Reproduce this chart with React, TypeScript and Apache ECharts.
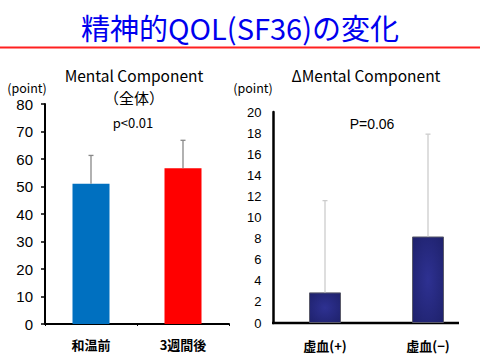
import React, { useEffect, useRef } from "react";
import * as echarts from "echarts";

const leftCategories = ["和温前", "3週間後"];
const leftMeans = [51, 56.6];
const leftSD = [10.3, 10.2];
const leftColors = ["#0070c0", "#ff0000"];

const rightCategories = ["虚血(+)", "虚血(−)"];
const rightMeans = [2.9, 8.2];
const rightSD = [8.7, 9.7];

const FONT_JP = "'Noto Sans CJK JP', sans-serif";
const FONT_LAT = "'Liberation Sans', Arial, sans-serif";

function errRender(color: string) {
  return (params: any, api: any) => {
    const x = api.value(0);
    const lo = api.coord([x, api.value(1)]);
    const hi = api.coord([x, api.value(2)]);
    return {
      type: "group",
      children: [
        {
          type: "line",
          shape: { x1: lo[0], y1: lo[1], x2: hi[0], y2: hi[1] },
          style: { stroke: color, lineWidth: 1.3 },
        },
        {
          type: "line",
          shape: { x1: hi[0] - 2.5, y1: hi[1], x2: hi[0] + 2.5, y2: hi[1] },
          style: { stroke: color, lineWidth: 1.3 },
        },
      ],
    };
  };
}

export default function App() {
  const ref = useRef<HTMLDivElement>(null);
  useEffect(() => {
    if (!ref.current) return;
    const chart = echarts.init(ref.current, null, { renderer: "svg" });
    const navy = new echarts.graphic.RadialGradient(0.5, 0.5, 0.8, [
      { offset: 0, color: "#2e3192" },
      { offset: 1, color: "#1c1f66" },
    ]);
    chart.setOption({
      animation: false,
      grid: [
        { left: 45, top: 104, width: 184, height: 220 },
        { left: 273.5, top: 112, width: 206, height: 211 },
      ],
      xAxis: [
        {
          gridIndex: 0,
          type: "category",
          data: leftCategories,
          axisLine: { lineStyle: { color: "#000", width: 2 } },
          axisTick: { show: true, length: 2, lineStyle: { color: "#000" } },
          axisLabel: {
            color: "#000",
            fontSize: 13,
            fontWeight: "bold",
            fontFamily: FONT_JP,
            margin: 14,
          },
        },
        {
          gridIndex: 1,
          type: "category",
          data: rightCategories,
          axisLine: { show: false },
          axisTick: { show: false },
          axisLabel: {
            color: "#000",
            fontSize: 13,
            fontWeight: "bold",
            fontFamily: FONT_JP,
            margin: 16,
          },
        },
      ],
      yAxis: [
        {
          gridIndex: 0,
          type: "value",
          min: 0,
          max: 80,
          interval: 10,
          splitLine: { show: false },
          axisLine: { show: true, lineStyle: { color: "#000", width: 2 } },
          axisTick: { show: true, length: 4, lineStyle: { color: "#000", width: 1.5 } },
          axisLabel: { color: "#000", fontSize: 15, fontFamily: FONT_LAT, margin: 12 },
        },
        {
          gridIndex: 1,
          type: "value",
          min: 0,
          max: 20,
          interval: 2,
          splitLine: { show: false },
          axisLine: { show: true, lineStyle: { color: "#000", width: 2.5 } },
          axisTick: { show: false },
          axisLabel: { color: "#000", fontSize: 13, fontFamily: FONT_LAT, margin: 12 },
        },
      ],
      series: [
        {
          type: "bar",
          xAxisIndex: 0,
          yAxisIndex: 0,
          barWidth: 37,
          data: leftMeans.map((v, i) => ({ value: v, itemStyle: { color: leftColors[i] } })),
        },
        {
          type: "custom",
          xAxisIndex: 0,
          yAxisIndex: 0,
          renderItem: errRender("#888888"),
          encode: { x: 0, y: [1, 2] },
          data: leftMeans.map((m, i) => [i, m, m + leftSD[i]]),
          z: 3,
        },
        {
          type: "bar",
          xAxisIndex: 1,
          yAxisIndex: 1,
          barWidth: 32,
          itemStyle: { color: navy, borderColor: "#5a5a6a", borderWidth: 1 },
          data: rightMeans,
        },
        {
          type: "custom",
          xAxisIndex: 1,
          yAxisIndex: 1,
          renderItem: errRender("#cccccc"),
          encode: { x: 0, y: [1, 2] },
          data: rightMeans.map((m, i) => [i, m, m + rightSD[i]]),
          z: 3,
        },
      ],
      graphic: [
        {
          type: "text",
          x: 240,
          y: 27,
          style: {
            text: "精神的QOL(SF36)の変化",
            fill: "#0000ee",
            fontSize: 29,
            fontFamily: FONT_JP,
            align: "center",
            verticalAlign: "middle",
          },
        },
        {
          type: "line",
          shape: { x1: 0, y1: 47.5, x2: 480, y2: 47.5 },
          style: { stroke: "#ff2020", lineWidth: 2 },
        },
        {
          type: "line",
          shape: { x1: 272, y1: 323, x2: 459, y2: 323 },
          style: { stroke: "#000", lineWidth: 2.5 },
        },
        {
          type: "text",
          x: 134,
          y: 75,
          style: { text: "Mental Component", fill: "#000", fontSize: 15.5, fontFamily: FONT_JP, align: "center", verticalAlign: "middle" },
        },
        {
          type: "text",
          x: 134,
          y: 97,
          style: { text: "（全体）", fill: "#000", fontSize: 15, fontFamily: FONT_JP, align: "center", verticalAlign: "middle" },
        },
        {
          type: "text",
          x: 133,
          y: 122,
          style: { text: "p<0.01", fill: "#000", fontSize: 13, fontFamily: FONT_JP, align: "center", verticalAlign: "middle" },
        },
        {
          type: "text",
          x: 27,
          y: 87,
          style: { text: "(point)", fill: "#000", fontSize: 12.5, fontFamily: FONT_JP, align: "center", verticalAlign: "middle" },
        },
        {
          type: "text",
          x: 253,
          y: 87,
          style: { text: "(point)", fill: "#000", fontSize: 12.5, fontFamily: FONT_JP, align: "center", verticalAlign: "middle" },
        },
        {
          type: "text",
          x: 366,
          y: 75,
          style: { text: "ΔMental Component", fill: "#000", fontSize: 15.5, fontFamily: FONT_JP, align: "center", verticalAlign: "middle" },
        },
        {
          type: "text",
          x: 372,
          y: 124,
          style: { text: "P=0.06", fill: "#000", fontSize: 14, fontFamily: FONT_LAT, align: "center", verticalAlign: "middle" },
        },
      ],
    });
    return () => chart.dispose();
  }, []);
  return <div ref={ref} style={{ width: 480, height: 360, position: "absolute", left: 0, top: 0 }} />;
}
